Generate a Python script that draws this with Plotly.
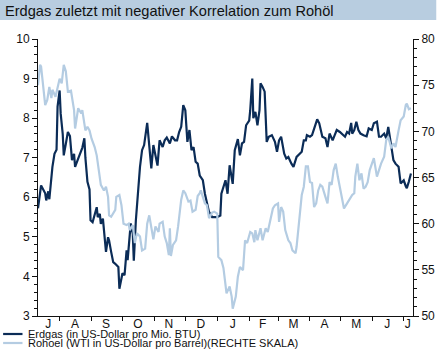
import plotly.graph_objects as go
import pandas as pd

# ---- data ----
start_date = "2006-07-11"
end_date = "2007-07-10"

gas_day = [0, 3, 7, 8, 10, 11, 14, 16, 18, 19, 21, 22, 24, 25, 27, 29, 31, 33, 35, 36, 39, 41, 43, 45, 46, 48, 50, 51, 53, 57,
           58, 60, 61, 63, 66, 68, 69, 71, 73, 75, 78, 79, 82, 84, 86, 87, 89, 90, 92, 93, 95, 97, 99, 101, 103, 106, 108, 110,
           112, 114, 116, 118, 121, 123, 125, 128, 130, 133, 135, 137, 139, 141, 143, 145, 147, 149, 151, 153, 155, 157, 160,
           162, 164, 166, 169, 174, 177, 178, 182, 184, 186, 189, 191, 194, 196, 198, 200, 202, 205, 206, 208, 209, 211, 213,
           215, 216, 218, 220, 222, 224, 227, 230, 232, 234, 236, 239, 241, 243, 246, 248, 251, 254, 256, 258, 260, 261, 264,
           266, 268, 271, 273, 276, 279, 281, 283, 286, 288, 290, 293, 295, 298, 300, 302, 304, 305, 307, 309, 311, 313, 316,
           319, 321, 324, 326, 329, 331, 333, 336, 338, 340, 343, 345, 347, 350, 352, 355, 357, 358, 360, 362]
gas_val = [5.72, 6.3, 6.1, 5.92, 6.15, 5.95, 6.77, 7.1, 7.2, 8.29, 8.7, 8.12, 7.6, 7.06, 7.35, 7.65, 7.55, 6.94, 7.1, 6.77,
           6.98, 7.1, 7.25, 7.49, 7.0, 6.39, 6.2, 5.42, 5.37, 5.75, 5.5, 5.58, 5.33, 5.46, 4.62, 4.99, 4.91, 4.62, 4.36, 4.32,
           4.24, 3.69, 4.08, 4.03, 4.66, 4.41, 4.91, 5.34, 5.08, 4.4, 5.42, 6.18, 6.77, 7.19, 7.32, 7.88, 7.27, 6.73, 7.32,
           7.06, 6.8, 7.44, 7.27, 7.44, 7.51, 7.36, 7.54, 7.44, 7.44, 7.65, 7.78, 8.33, 8.2, 7.4, 7.7, 7.19, 7.27, 6.9, 6.85,
           6.55, 6.43, 6.09, 5.85, 5.63, 5.5, 5.5, 5.54, 6.09, 6.43, 6.09, 6.81, 6.34, 7.19, 7.47, 7.06, 7.36, 7.4, 7.82, 7.94,
           8.2, 9.0, 8.0, 8.16, 7.82, 8.2, 8.88, 8.79, 8.67, 7.4, 7.53, 7.57, 7.4, 7.15, 7.44, 7.53, 7.1, 6.98, 7.02, 6.85,
           6.77, 7.02, 7.1, 7.15, 7.44, 7.44, 7.57, 7.53, 7.57, 7.74, 7.97, 7.87, 7.53, 7.49, 7.27, 7.61, 7.44, 7.57, 7.7,
           7.65, 7.61, 7.53, 7.65, 7.61, 7.88, 7.61, 7.7, 7.91, 7.7, 7.61, 7.57, 7.54, 7.74, 7.7, 7.87, 7.91, 7.53, 7.53,
           7.61, 7.49, 7.78, 7.32, 6.94, 6.85, 6.77, 6.35, 6.43, 6.28, 6.23, 6.4, 6.6]

oil_day = [0, 2, 3, 5, 7, 9, 11, 13, 14, 17, 19, 21, 23, 25, 27, 29, 32, 33, 35, 36, 38, 39, 42, 43, 46, 48, 50, 52, 55, 57,
           59, 61, 64, 66, 68, 69, 71, 73, 75, 76, 79, 81, 83, 86, 88, 89, 92, 94, 96, 99, 101, 104, 106, 108, 110, 112, 114,
           117, 118, 121, 123, 125, 127, 128, 129, 131, 134, 136, 139, 141, 143, 146, 148, 150, 153, 155, 157, 158, 160, 162,
           164, 166, 169, 171, 174, 175, 178, 180, 183, 186, 188, 189, 192, 194, 196, 199, 201, 203, 206, 208, 210, 211, 213,
           216, 218, 221, 223, 225, 228, 230, 233, 234, 236, 238, 240, 243, 245, 247, 250, 251, 254, 256, 258, 260, 262, 264,
           266, 268, 270, 272, 274, 276, 279, 281, 283, 285, 287, 289, 291, 293, 295, 297, 300, 302, 305, 307, 308, 310, 312,
           314, 316, 318, 320, 322, 324, 326, 329, 331, 333, 336, 338, 340, 343, 345, 347, 350, 352, 355, 357, 358, 360, 362]
oil_val = [75.0, 77.2, 77.0, 74.5, 72.85, 73.4, 74.8, 73.6, 74.5, 73.75, 74.8, 75.7, 75.2, 77.2, 76.5, 74.3, 74.4, 73.6,
           72.3, 70.3, 71.6, 72.5, 71.95, 72.3, 70.1, 70.5, 70.1, 69.2, 68.3, 67.4, 65.8, 64.2, 63.6, 64.0, 62.9, 60.9, 60.75,
           61.1, 61.5, 62.9, 63.1, 62.0, 60.0, 59.85, 60.0, 59.3, 59.85, 57.9, 58.95, 58.6, 57.1, 57.3, 60.0, 60.9, 59.7, 58.3,
           59.7, 59.1, 60.0, 60.2, 58.6, 57.9, 56.6, 59.5, 56.5, 57.7, 58.2, 59.7, 62.6, 63.6, 63.3, 62.4, 62.5, 61.3, 61.5,
           63.0, 63.3, 63.6, 62.9, 62.2, 62.0, 60.6, 61.2, 61.3, 61.1, 56.4, 56.05, 55.2, 52.45, 53.2, 52.1, 50.8, 52.1, 54.25,
           55.3, 54.95, 58.2, 57.9, 59.1, 58.95, 58.0, 59.3, 58.2, 59.5, 58.2, 59.5, 59.1, 60.0, 61.65, 62.0, 62.2, 60.2, 61.8,
           61.3, 59.3, 58.2, 57.9, 57.1, 56.8, 57.5, 60.75, 63.1, 64.0, 66.2, 66.2, 64.5, 64.4, 61.8, 62.2, 63.6, 64.2, 64.0,
           62.9, 62.2, 64.5, 64.2, 65.8, 66.5, 65.1, 64.0, 62.9, 61.65, 62.2, 62.6, 63.1, 63.3, 65.1, 66.5, 64.7, 65.45, 63.8,
           64.0, 64.5, 65.8, 66.35, 67.1, 65.1, 65.8, 66.5, 67.25, 69.05, 69.4, 68.15, 68.7, 68.3, 70.1, 71.2, 71.6, 72.85,
           73.0, 72.4, 72.5]

month_tick_dates = ["2006-07-21", "2006-08-16", "2006-09-15", "2006-10-16", "2006-11-15", "2006-12-16",
                    "2007-01-16", "2007-02-14", "2007-03-16", "2007-04-15", "2007-05-16", "2007-06-15", "2007-07-05"]
month_labels = ["J", "A", "S", "O", "N", "D", "J", "F", "M", "A", "M", "J", "J"]

title_text = "Erdgas zuletzt mit negativer Korrelation zum Rohöl"
gas_name = "Erdgas (in US-Dollar pro Mio. BTU)"
oil_name = "Rohoel (WTI in US-Dollar pro Barrel)(RECHTE SKALA)"

# ---- styling ----
DARK = "#0b2c57"
LIGHT = "#b4cce2"
BAR = "#b8cde0"
FONT = "Liberation Sans"
W, H = 447, 353
L, R, T, B = 38, 22, 39, 37
pw, ph = W - L - R, H - T - B

base = pd.Timestamp(start_date)
gas_x = base + pd.to_timedelta(gas_day, unit="D")
oil_x = base + pd.to_timedelta(oil_day, unit="D")

fig = go.Figure()
fig.add_trace(go.Scatter(x=oil_x, y=oil_val, mode="lines", name=oil_name, yaxis="y2",
                         line=dict(color=LIGHT, width=2.2), showlegend=False))
fig.add_trace(go.Scatter(x=gas_x, y=gas_val, mode="lines", name=gas_name, yaxis="y",
                         line=dict(color=DARK, width=2.2), showlegend=False))

def px(xp):
    return (xp - L) / pw

def py(yp):
    return (H - B - yp) / ph

shapes = [
    dict(type="rect", xref="paper", yref="paper", x0=px(-2), x1=px(W + 2), y0=py(20), y1=py(-2),
         fillcolor=BAR, line=dict(width=0), layer="below"),
    dict(type="line", xref="paper", yref="paper", x0=px(2), x1=px(22), y0=py(334), y1=py(334),
         line=dict(color=DARK, width=2.2)),
    dict(type="line", xref="paper", yref="paper", x0=px(2), x1=px(22), y0=py(343), y1=py(343),
         line=dict(color=LIGHT, width=2.2)),
]

annotations = [
    dict(text=title_text, xref="paper", yref="paper", x=px(2), y=py(10.5), xanchor="left", yanchor="middle",
         showarrow=False, font=dict(family=FONT, size=14.6, color="#111")),
    dict(text=gas_name, xref="paper", yref="paper", x=px(26), y=py(333.5), xanchor="left", yanchor="middle",
         showarrow=False, font=dict(family=FONT, size=11, color="#111")),
    dict(text=oil_name, xref="paper", yref="paper", x=px(26), y=py(343), xanchor="left", yanchor="middle",
         showarrow=False, font=dict(family=FONT, size=11, color="#111")),
]

tickfont = dict(family=FONT, size=12, color="#111")

fig.update_layout(
    width=W, height=H, autosize=False,
    margin=dict(l=L, r=R, t=T, b=B, pad=0),
    paper_bgcolor="white", plot_bgcolor="white",
    shapes=shapes, annotations=annotations,
    xaxis=dict(
        range=[start_date, end_date], type="date",
        tickmode="array", tickvals=month_tick_dates, ticktext=month_labels,
        ticks="outside", ticklen=0, tickfont=tickfont, ticklabelstandoff=-3,
        showline=True, linecolor="#111", linewidth=1, showgrid=False, zeroline=False,
        minor=dict(ticks="outside", ticklen=4, tickcolor="#111", dtick="M1", tick0="2006-07-01", showgrid=False),
    ),
    yaxis=dict(
        range=[3, 10], dtick=1, tick0=0, ticks="outside", ticklen=5, tickcolor="#111",
        tickfont=tickfont, showline=True, linecolor="#111", linewidth=1, showgrid=False, zeroline=False,
        minor=dict(ticks="outside", ticklen=3, dtick=0.2, tickcolor="#111", showgrid=False),
    ),
    yaxis2=dict(
        range=[50, 80], dtick=5, tick0=0, overlaying="y", side="right", anchor="x",
        ticks="outside", ticklen=5, tickcolor="#111",
        tickfont=tickfont, showline=True, linecolor="#111", linewidth=1, showgrid=False, zeroline=False,
        minor=dict(ticks="outside", ticklen=3, dtick=1, tickcolor="#111", showgrid=False),
    ),
)

fig.write_html("out.html")
